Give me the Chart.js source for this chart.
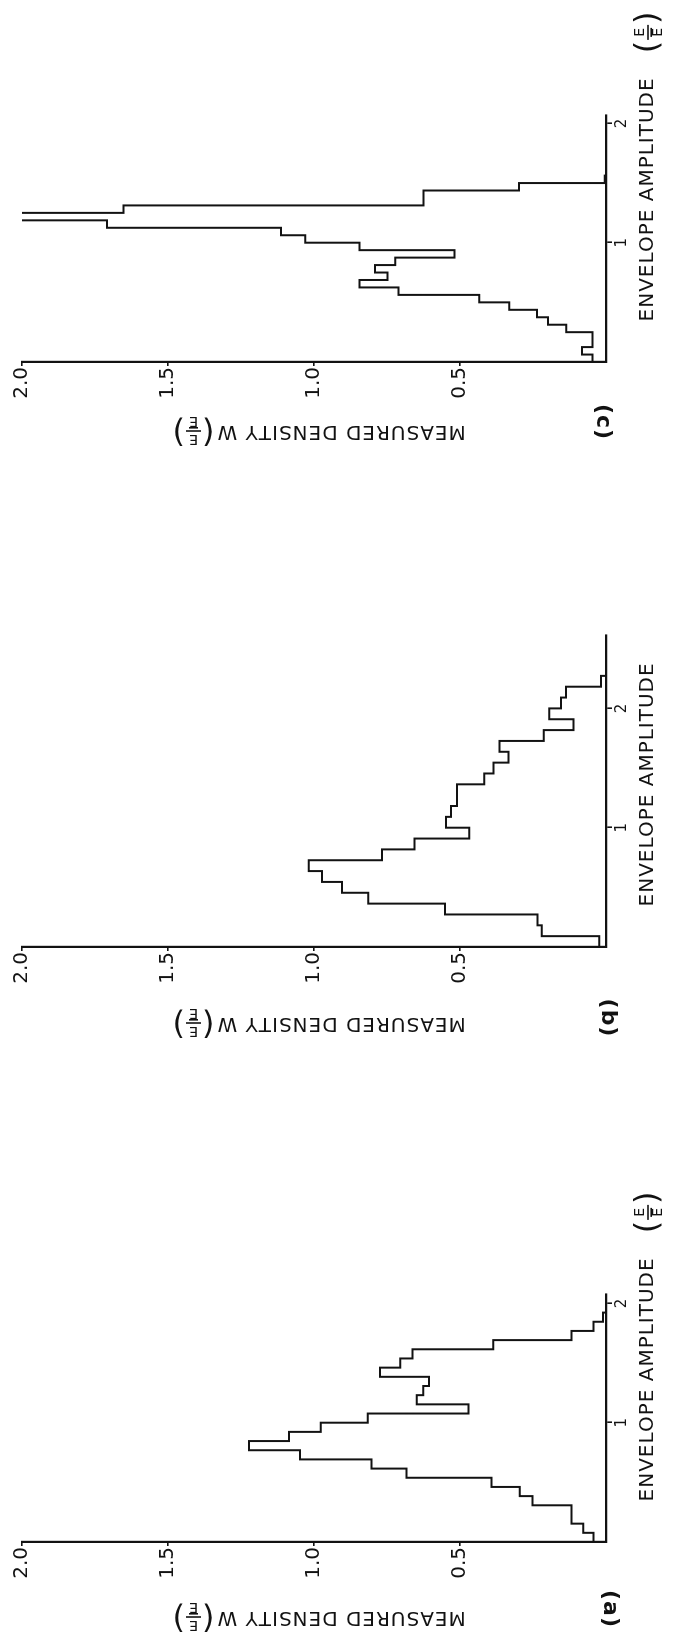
<!DOCTYPE html>
<html><head><meta charset="utf-8">
<script src="https://cdn.jsdelivr.net/npm/chart.js@4.4.1/dist/chart.umd.min.js"></script>
<style>
html,body{margin:0;padding:0;background:#fff;width:673px;height:1639px;overflow:hidden;}
.panel{position:absolute;left:0;width:673px;height:560px;}
.panel canvas{position:absolute;left:0;top:0;transform-origin:0 0;transform:translate(0,560px) rotate(-90deg);}
</style></head><body>
<div class="panel" style="top:0px"><canvas id="cc" width="560" height="673"></canvas></div>
<div class="panel" style="top:584.7px"><canvas id="cb" width="560" height="673"></canvas></div>
<div class="panel" style="top:1179.7px"><canvas id="ca" width="560" height="673"></canvas></div>
<script>
// ---- data ----
const densityTicks = [0.5, 1.0, 1.5, 2.0];
const densityTickLabels = ['0.5', '1.0', '1.5', '2.0'];
const amplitudeTicks = [1, 2];
const amplitudeTickLabels = ['1', '2'];
const xTitle = 'ENVELOPE AMPLITUDE';
const yTitle = 'MEASURED DENSITY W';
const panelLabels = ['(a)', '(b)', '(c)'];

// (a) histogram: 13 bins per unit of E/Ē
const binsPerUnitA = 13;
const densityA = [0.043, 0.078, 0.118, 0.118, 0.252, 0.295, 0.392, 0.683, 0.803, 1.048, 1.223, 1.086, 0.977,
                  0.816, 0.471, 0.648, 0.626, 0.606, 0.774, 0.705, 0.663, 0.386, 0.118, 0.043, 0.010];
// (b) histogram: 11 bins per unit
const binsPerUnitB = 11;
const densityB = [0.023, 0.220, 0.235, 0.551, 0.814, 0.904, 0.973, 1.018, 0.767, 0.656, 0.468, 0.548, 0.531,
                  0.510, 0.510, 0.417, 0.385, 0.334, 0.365, 0.213, 0.111, 0.194, 0.154, 0.137, 0.017];
// (c) histogram: 16 bins per unit (one bin runs off the top of the scale)
const binsPerUnitC = 16;
const densityC = [0.046, 0.082, 0.046, 0.046, 0.136, 0.199, 0.236, 0.331, 0.434, 0.711, 0.844, 0.748, 0.791,
                  0.722, 0.519, 0.844, 1.030, 1.113, 1.709, 2.150, 1.652, 0.625, 0.625, 0.298, 0.004];

// ---- layout (original, unrotated orientation of each canvas) ----
const INK = '#121212';
const CANVAS_W = 560, CANVAS_H = 673;
const AXIS_LEFT = 198, PX_PER_AMP = 119.3, Y_TOP = 22, Y_BOTTOM = 606;
const FONT = '"DejaVu Sans", "Liberation Sans", sans-serif';

function histPoints(values, bpu) {
  const pts = values.map((v, i) => ({x: i / bpu, y: v}));
  const end = values.length / bpu;
  pts.push({x: end, y: values[values.length - 1]});
  pts.push({x: end, y: 0});
  return pts;
}

function drawFrac(ctx, x, y) {
  ctx.letterSpacing = '0px';
  ctx.font = '32px ' + FONT;
  ctx.textAlign = 'left'; ctx.textBaseline = 'middle';
  ctx.fillText('(', x, y + 1);
  const pw = ctx.measureText('(').width;
  const fx = x + pw + 1, fw = 15;
  ctx.font = '14px ' + FONT; ctx.textAlign = 'center';
  ctx.fillText('E', fx + fw / 2, y - 8);
  ctx.fillText('E', fx + fw / 2, y + 10);
  ctx.lineWidth = 1.6;
  ctx.beginPath(); ctx.moveTo(fx, y); ctx.lineTo(fx + fw, y); ctx.stroke();
  ctx.beginPath(); ctx.moveTo(fx + 3, y + 3.2); ctx.lineTo(fx + fw - 3, y + 3.2); ctx.stroke();
  ctx.font = '32px ' + FONT; ctx.textAlign = 'left';
  ctx.fillText(')', fx + fw + 1, y + 1);
}

const textPlugin = {
  id: 'figTexts',
  afterDraw(chart, args, o) {
    const {ctx, scales: {x, y}} = chart;
    ctx.save();
    ctx.fillStyle = INK; ctx.strokeStyle = INK;
    // x-axis title
    ctx.font = '20px ' + FONT; ctx.letterSpacing = '1px';
    ctx.textAlign = 'left'; ctx.textBaseline = 'middle';
    const x0 = x.getPixelForValue(o.xTitleStart);
    ctx.fillText(xTitle, x0, o.xTitleY);
    const w = ctx.measureText(xTitle).width;
    if (o.xFrac) drawFrac(ctx, x0 + w + 24, o.xTitleY);
    // y-axis title (reads bottom to top)
    ctx.save();
    ctx.translate(o.yTitleX, y.getPixelForValue(o.yTitleStart));
    ctx.rotate(-Math.PI / 2);
    ctx.font = '20px ' + FONT; ctx.letterSpacing = '1px';
    ctx.textAlign = 'left'; ctx.textBaseline = 'middle';
    ctx.fillText(yTitle, 0, 0);
    const wy = ctx.measureText(yTitle).width;
    drawFrac(ctx, wy + 2, 0);
    ctx.restore();
    // panel label, upside down in this orientation
    ctx.save();
    ctx.translate(o.labelX, o.labelY);
    ctx.rotate(Math.PI);
    ctx.letterSpacing = '1px';
    ctx.font = 'bold 22px ' + FONT; ctx.textAlign = 'center'; ctx.textBaseline = 'middle';
    ctx.fillText(o.label, 0, 0);
    ctx.restore();
    ctx.restore();
  }
};

function makePanel(id, values, bpu, xMax, opts) {
  const right = AXIS_LEFT + xMax * PX_PER_AMP;
  new Chart(document.getElementById(id), {
    type: 'line',
    data: {datasets: [{data: histPoints(values, bpu), stepped: 'before', borderColor: INK,
      borderWidth: 2, pointRadius: 0, fill: false, tension: 0}]},
    options: {
      responsive: false, animation: false, devicePixelRatio: 1,
      layout: {padding: {top: Y_TOP, right: CANVAS_W - right, bottom: 0, left: 0}},
      plugins: {legend: {display: false}, tooltip: {enabled: false}, figTexts: opts},
      scales: {
        x: {
          type: 'linear', min: 0, max: xMax,
          afterFit(s) { s.height = CANVAS_H - Y_BOTTOM; },
          afterBuildTicks(s) { s.ticks = amplitudeTicks.map(v => ({value: v})); },
          ticks: {callback: (v, i) => amplitudeTickLabels[i], color: INK, padding: 1,
            font: {family: FONT, size: 15}, maxRotation: 0, minRotation: 0, autoSkip: false},
          grid: {drawOnChartArea: false, drawTicks: true, tickLength: 6, color: INK, lineWidth: 1.6},
          border: {display: true, color: INK, width: 2.2}
        },
        y: {
          type: 'linear', min: 0, max: 2,
          afterFit(s) { s.width = AXIS_LEFT; },
          afterBuildTicks(s) { s.ticks = densityTicks.map(v => ({value: v})); },
          ticks: {callback: (v, i) => densityTickLabels[i], color: INK, padding: 1,
            font: {family: FONT, size: 20}, autoSkip: false},
          grid: {drawOnChartArea: false, drawTicks: true, tickLength: 4, color: INK, lineWidth: 1.6},
          border: {display: true, color: INK, width: 2.2}
        }
      }
    },
    plugins: [textPlugin]
  });
}

makePanel('cc', densityC, binsPerUnitC, 2.07, {
  label: panelLabels[2], labelX: AXIS_LEFT - 60, labelY: 603,
  xTitleStart: 0.34, xTitleY: 648, xFrac: true, yTitleX: AXIS_LEFT - 69, yTitleStart: 0.48});
makePanel('cb', densityB, binsPerUnitB, 2.61, {
  label: panelLabels[1], labelX: AXIS_LEFT - 71, labelY: 608,
  xTitleStart: 0.34, xTitleY: 648, xFrac: false, yTitleX: AXIS_LEFT - 76, yTitleStart: 0.48});
makePanel('ca', densityA, binsPerUnitA, 2.08, {
  label: panelLabels[0], labelX: AXIS_LEFT - 67, labelY: 610,
  xTitleStart: 0.34, xTitleY: 648, xFrac: true, yTitleX: AXIS_LEFT - 75, yTitleStart: 0.48});
</script>
</body></html>
